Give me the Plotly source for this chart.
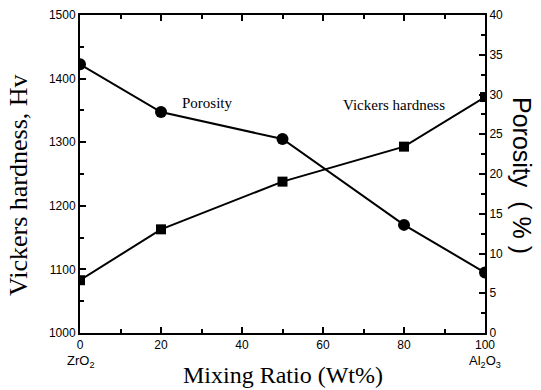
import plotly.graph_objects as go

ratio = [0, 20, 50, 80, 100]
hardness = [1083, 1163, 1238, 1293, 1371]
porosity = [33.8, 27.8, 24.4, 13.6, 7.6]

sans = "Liberation Sans"
serif = "Liberation Serif"

W, H = 541, 390
L, R, T, B = 80, 56, 15, 57
pw, ph = W - L - R, H - T - B


def px(xp, yp):
    return (xp - L) / pw, (H - B - yp) / ph


fig = go.Figure()
fig.add_trace(go.Scatter(x=ratio, y=hardness, mode="lines+markers",
                         line=dict(color="black", width=2),
                         marker=dict(symbol="square", size=10, color="black"),
                         yaxis="y", showlegend=False))
fig.add_trace(go.Scatter(x=ratio, y=porosity, mode="lines+markers",
                         line=dict(color="black", width=2),
                         marker=dict(symbol="circle", size=12, color="black"),
                         yaxis="y2", showlegend=False))

axis_common = dict(showgrid=False, zeroline=False, showline=True, linecolor="black",
                   linewidth=2, ticks="inside", tickcolor="black", tickwidth=1.5,
                   ticklen=6, automargin=False,
                   tickfont=dict(family=sans, size=12, color="black"))

xt = px(283, 375)
lt = px(18, 185)
rt = px(522, 175)
sub = px(0, 351)

fig.update_layout(
    width=W, height=H,
    margin=dict(l=L, r=R, t=T, b=B),
    plot_bgcolor="white", paper_bgcolor="white",
    xaxis=dict(range=[0, 100], tickvals=[0, 20, 40, 60, 80, 100], mirror="ticks",
               minor=dict(ticks="inside", dtick=10, ticklen=4, tickcolor="black"),
               **axis_common),
    yaxis=dict(range=[1000, 1500], dtick=100,
               minor=dict(ticks="inside", dtick=50, ticklen=4, tickcolor="black"),
               **axis_common),
    yaxis2=dict(range=[0, 40], dtick=5, overlaying="y", side="right",
                minor=dict(ticks="inside", dtick=2.5, ticklen=4, tickcolor="black"),
                **axis_common),
    annotations=[
        dict(x=xt[0], y=xt[1], xref="paper", yref="paper", text="Mixing Ratio (Wt%)",
             showarrow=False, xanchor="center", yanchor="middle",
             font=dict(family=serif, size=24, color="black")),
        dict(x=lt[0], y=lt[1], xref="paper", yref="paper", text="Vickers hardness, Hv",
             showarrow=False, textangle=-90, xanchor="center", yanchor="middle",
             font=dict(family=serif, size=26, color="black")),
        dict(x=rt[0], y=rt[1], xref="paper", yref="paper", text="Porosity  ( % )",
             showarrow=False, textangle=90, xanchor="center", yanchor="middle",
             font=dict(family=sans, size=25, color="black")),
        dict(x=0, y=sub[1], xref="x", yref="paper", text="ZrO<sub>2</sub>", showarrow=False,
             xanchor="center", yanchor="top", font=dict(family=sans, size=13, color="black")),
        dict(x=100, y=sub[1], xref="x", yref="paper", text="Al<sub>2</sub>O<sub>3</sub>",
             showarrow=False, xanchor="center", yanchor="top",
             font=dict(family=sans, size=13, color="black")),
        dict(x=31.4, y=1362, xref="x", yref="y", text="Porosity", showarrow=False,
             font=dict(family=serif, size=15, color="black")),
        dict(x=77.5, y=1358, xref="x", yref="y", text="Vickers hardness", showarrow=False,
             font=dict(family=serif, size=15, color="black")),
    ],
)

fig.write_html("out.html", config={"displayModeBar": False},
               post_script="document.body.style.margin='0';")
